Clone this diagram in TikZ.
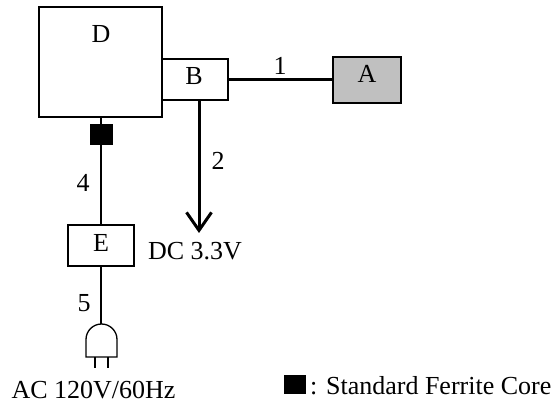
\documentclass[tikz,border=0pt]{standalone}
\usepackage{fontspec}
\setmainfont{Liberation Serif}
\usetikzlibrary{arrows.meta}
\begin{document}
\begin{tikzpicture}[x=1pt,y=-1pt,
  box/.style={draw=black,line width=1.3pt,inner sep=0pt,minimum width=#1},
  lbl/.style={inner sep=0pt,anchor=base,font=\fontsize{26}{30}\selectfont},
  thin/.style={line width=1.3pt},
  thick/.style={line width=3pt},
  core/.style={fill=black,inner sep=0pt,minimum width=23pt,minimum height=21pt}]
\useasboundingbox (0,0) rectangle (557,403);
% boxes
\node[box=123pt,minimum height=110pt] (D) at (100.5,62) {};
\node[box=66pt,minimum height=41pt] (B) at (195,79.5) {};
\node[box=68pt,minimum height=46pt,fill={rgb,255:red,192;green,192;blue,192}] (A) at (367,80) {};
\node[box=66pt,minimum height=41pt] (E) at (101,245.5) {};
\node[core] (F) at (101,134.5) {};
% labels
\node[lbl] (Dl) at (101,43) {D};
\node[lbl] (Bl) at (194,85) {B};
\node[lbl] (Al) at (367,83) {A};
\node[lbl] (El) at (101,252) {E};
\node[lbl] (l1) at (280,75) {1};
\node[lbl] (l2) at (218,170) {2};
\node[lbl] (l4) at (83,192) {4};
\node[lbl] (l5) at (84,312) {5};
\node[lbl] (dc) at (195,260) {DC 3.3V};
\node[lbl] (ac) at (93.5,398) {AC 120V/60Hz};
% connectors
\draw[thick] (B.east |- A.west) -- (A.west);
\coordinate (tip) at (199,233);
\draw[thick,-{Straight Barb[length=18pt,width=25pt,line width=3pt]}] (B.south -| tip) -- (tip);
\draw[thin] (D.south -| F) -- (F.north);
\draw[thin] (F.south) -- (E.north);
\coordinate (plugtop) at (101,324);
\draw[thin] (E.south) -- (plugtop);
% plug
\draw[thin] (86,357) -- (86,339.5) arc[start angle=180,end angle=360,radius=15.5] -- (117,357) -- cycle;
\draw[thin] (95,357) -- (95,368);
\draw[thin] (108,357) -- (108,368);
% legend
\node[core,minimum width=22pt,minimum height=19pt] (key) at (295,384.5) {};
\node[lbl,anchor=base west] (keytext) at (310,394) {: Standard Ferrite Core};
\end{tikzpicture}
\end{document}
